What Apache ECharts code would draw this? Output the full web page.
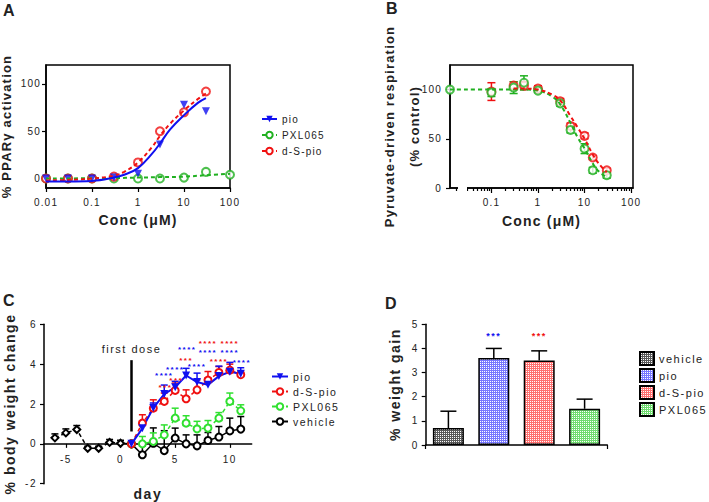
<!DOCTYPE html>
<html>
<head>
<meta charset="utf-8">
<title>PPARγ activation, respiration and body weight</title>
<script src="https://cdn.jsdelivr.net/npm/echarts@6.0.0/dist/echarts.min.js"></script>
<style>
  html, body { margin: 0; padding: 0; background: #fff; }
  .panel { position: absolute; }
  #chartA, #chartB { letter-spacing: 1.2px; }
  #chartC, #chartD { letter-spacing: 1.5px; }
</style>
</head>
<body>
<div id="chartA" class="panel" style="left:0;top:0;width:355px;height:250px"></div>
<div id="chartB" class="panel" style="left:355px;top:0;width:354px;height:250px"></div>
<div id="chartC" class="panel" style="left:0;top:250px;width:355px;height:252px"></div>
<div id="chartD" class="panel" style="left:355px;top:250px;width:354px;height:252px"></div>
<script>
// ---------- A: PPARγ activation ----------
const aConc = [0.01, 0.03, 0.1, 0.3, 1, 3, 10, 30];
const aPio = [0, 0, 0, 1, 5, 36, 78, 71];
const aDSpio = [0, 0, 0, 2, 17, 50, 70, 92];
const aPxlConc = [0.01, 0.03, 0.1, 0.3, 1, 3, 10, 30, 100];
const aPxl = [0, 0, 0, 0, 0, 0, 1, 7, 4];
// fitted curves
const aFitConc = [0.01, 0.03, 0.1, 0.3, 0.5, 1, 2, 3, 5, 10, 20, 30];
const aPioFit = [-3, -3, -2.5, 1, 4, 11, 26, 37, 52, 67, 80, 85];
const aDSpioFit = [-2, -1.5, 0, 3, 7, 17, 33, 45, 58, 72, 84, 90];
const aPxlFitConc = [0.01, 0.3, 1, 3, 10, 30, 100];
const aPxlFit = [0, 0.5, 1, 1.5, 2, 3.5, 5];
const aYTicks = [0, 50, 100];

// ---------- B: pyruvate-driven respiration ----------
const bCtrlConc = 0.0129;   // control drawn at the left end of the axis
const bCtrl = 100;
const bConc = [0.1, 0.3, 0.5, 1, 3, 5, 10, 15, 30];
const bDSpio = [98, 104, 104, 101, 88, 63, 53, 31, 18];
const bDSpioErr = [9, 4, 4, 3, 3, 3, 3, 2, 2];
const bPxl = [97, 102, 107, 99, 86, 59, 40, 18, 13];
const bPxlErr = [4, 6, 7, 2, 3, 3, 5, 3, 3];
const bPxlFitConc = [0.0129, 0.1, 0.3, 0.5, 1, 2, 3, 5, 7, 10, 15, 20, 30];
const bPxlFit = [100, 100, 100, 100, 99, 93, 85, 66, 52, 40, 25, 17, 11];
const bDSFitConc = [0.3, 0.5, 1, 2, 3, 5, 7, 10, 15, 20, 30];
const bDSFit = [101, 101, 100, 95, 89, 73, 62, 50, 34, 25, 16];
const bYTicks = [0, 50, 100];
const bMajorTicks = [0.1, 1, 10, 100];
const bMinorTicks = [0.0175, 0.03, 0.04, 0.05, 0.06, 0.07, 0.08, 0.09,
  0.2, 0.3, 0.4, 0.5, 0.6, 0.7, 0.8, 0.9, 2, 3, 4, 5, 6, 7, 8, 9,
  20, 30, 40, 50, 60, 70, 80, 90];

// ---------- C: body weight change ----------
const cPreDays = [-6, -5, -4, -3, -2, -1, 0, 1];
const cPre = [0.3, 0.55, 0.72, -0.22, -0.22, 0.07, 0.03, 0];
const cPreErr = [0.2, 0.2, 0.2, 0.1, 0.1, 0.15, 0.15, 0];
const cDays = [1, 2, 3, 4, 5, 6, 7, 8, 9, 10, 11];
const cPio = [0, 0.78, 1.8, 2.5, 2.84, 3.43, 3.1, 2.96, 3.4, 3.62, 3.52];
const cPioErr = [0, 0.25, 0.25, 0.45, 0.3, 0.36, 0.45, 0.34, 0.5, 0.47, 0.3];
const cDSpio = [0, 1.04, 1.79, 2.13, 2.68, 2.26, 2.71, 3.2, 3.58, 3.7, 3.47];
const cDSpioErr = [0, 0.42, 0.42, 0.42, 0.37, 0.45, 0.5, 0.43, 0.3, 0.3, 0.18];
const cPxl = [0, 0, 0.12, 0.45, 1.29, 1.04, 0.75, 0.79, 1.29, 2.13, 1.66];
const cPxlErr = [0, 0.37, 0.43, 0.5, 0.5, 0.37, 0.38, 0.38, 0.28, 0.42, 0.3];
const cVeh = [0, -0.55, 0.03, -0.34, 0.29, 0, -0.1, 0.17, 0.34, 0.65, 0.74];
const cVehErr = [0, 0.45, 0.77, 1.0, 0.5, 0.45, 0.55, 0.4, 0.53, 0.64, 0.63];
const cXTicks = [-5, 0, 5, 10];
const cPioStarDays = [4, 5, 6.1, 7, 8, 10, 11.1];
const cPioStarY = [3.42, 3.72, 4.72, 3.88, 4.56, 4.56, 4.1];
const cPioStars = ['****', '****', '****', '****', '****', '****', '****'];
const cDSStarDays = [4.1, 5.1, 6, 8, 9, 10];
const cDSStarY = [2.85, 3.2, 4.17, 5.06, 4.14, 5.06];
const cDSStars = ['***', '***', '***', '****', '****', '****'];
const doseDay = 1, doseFrom = 4.2, doseTo = 0.62;

// ---------- D: weight gain ----------
const dGroups = ['vehicle', 'pio', 'd-S-pio', 'PXL065'];
const dGain = [0.7, 3.6, 3.5, 1.5];
const dErr = [0.7, 0.4, 0.4, 0.4];
const dStars = ['', '***', '***', ''];
const dStarY = [0, 4.53, 4.53, 0];

const FONT = '"Liberation Sans", Arial, sans-serif';
const TXT = '#222';
const BLUE = '#1010f0', RED = '#f01010', GREEN = '#20b020', LIME = '#30e030';
const dFill = ['#5a5a5a', '#7878ff', '#ff7070', '#70dc70'];
const dStarColor = ['#000', BLUE, RED, '#000'];

const lg = v => Math.log10(v);
const xy = (xs, ys) => xs.map((x, i) => [x, ys[i]]);
const lxy = (xs, ys) => xs.map((x, i) => [lg(x), ys[i]]);
const xye = (xs, ys, es) => xs.map((x, i) => [x, ys[i], es[i]]);
const decade = v => String(Math.pow(10, Math.round(v)));

function mix(a, b) {
  const out = Object.assign({}, a);
  for (const k in b) {
    const v = b[k];
    const isObj = v && typeof v === 'object' && !Array.isArray(v) && typeof v !== 'function';
    out[k] = isObj && a[k] && typeof a[k] === 'object' ? mix(a[k], v) : v;
  }
  return out;
}

function axis(extra) {
  return mix({
    splitLine: { show: false },
    axisLine: { show: true, onZero: false, lineStyle: { color: '#000', width: 1.5 } },
    axisTick: { show: true, length: 4, lineStyle: { color: '#000', width: 1.2 } },
    axisLabel: { color: TXT, fontSize: 10, fontFamily: FONT },
    nameLocation: 'middle',
    nameTextStyle: { color: TXT, fontSize: 13, fontWeight: 'bold', fontFamily: FONT }
  }, extra);
}

function errBars(color, both, half) {
  return function (params, api) {
    const x = api.value(0), y = api.value(1), e = api.value(2);
    if (!e) return null;
    const c = api.coord([x, y]);
    const t = api.coord([x, y + e]);
    const b = both ? api.coord([x, y - e]) : c;
    const st = { stroke: color, lineWidth: 1.5 };
    const kids = [
      { type: 'line', shape: { x1: c[0], y1: b[1], x2: c[0], y2: t[1] }, style: st },
      { type: 'line', shape: { x1: c[0] - half, y1: t[1], x2: c[0] + half, y2: t[1] }, style: st }
    ];
    if (both) kids.push({ type: 'line', shape: { x1: c[0] - half, y1: b[1], x2: c[0] + half, y2: b[1] }, style: st });
    return { type: 'group', children: kids };
  };
}

function stars(xs, ys, texts, color) {
  return {
    type: 'custom', silent: true, z: 5,
    data: xs.map((x, i) => [x, ys[i]]),
    renderItem: (p, api) => {
      const c = api.coord([api.value(0), api.value(1)]);
      return { type: 'text', x: c[0], y: c[1],
        style: { text: texts[p.dataIndex], fill: color, font: 'bold 8px ' + FONT, align: 'center', verticalAlign: 'middle' } };
    }
  };
}

function letter(t, left, top) {
  return { type: 'text', left: left, top: top, style: { text: t, font: 'bold 16px ' + FONT, fill: TXT } };
}

function pat(base) {
  const cv = document.createElement('canvas');
  cv.width = 4; cv.height = 4;
  const g = cv.getContext('2d');
  g.fillStyle = base; g.fillRect(0, 0, 4, 4);
  g.fillStyle = '#fff';
  g.fillRect(1, 1, 1, 1); g.fillRect(3, 3, 1, 1); g.fillRect(1, 3, 1, 1); g.fillRect(3, 1, 1, 1);
  return { image: cv, repeat: 'repeat' };
}

const dash = [4, 3];

// ---------- panel A ----------
const chartA = echarts.init(document.getElementById('chartA'), null, { renderer: 'svg' });
chartA.setOption({
  animation: false,
  textStyle: { fontFamily: FONT },
  graphic: [letter('A', 3, 2)],
  grid: { left: 46, top: 65, width: 184, height: 123, show: true, borderColor: '#000', borderWidth: 1.5, outerBoundsMode: 'none' },
  xAxis: axis({ type: 'value', min: lg(0.01), max: lg(100), interval: 1,
    name: 'Conc (μM)', nameGap: 25, nameTextStyle: { fontSize: 14 },
    axisLabel: { margin: 9, formatter: decade } }),
  yAxis: axis({ type: 'value', min: -10, max: 120, name: '% PPARγ activation', nameGap: 32,
    axisLabel: { margin: 5, customValues: aYTicks }, axisTick: { customValues: aYTicks } }),
  legend: { orient: 'vertical', left: 256, top: 109, itemWidth: 15, itemHeight: 8, itemGap: 6,
    textStyle: { color: TXT, fontSize: 10, fontFamily: FONT }, data: ['pio', 'PXL065', 'd-S-pio'] },
  series: [
    { name: 'PXL065', type: 'line', smooth: 0.4, data: lxy(aPxlFitConc, aPxlFit), symbol: 'emptyCircle', showSymbol: false,
      lineStyle: { color: GREEN, width: 2, type: dash }, itemStyle: { color: GREEN } },
    { name: 'd-S-pio', type: 'line', smooth: 0.4, data: lxy(aFitConc, aDSpioFit), symbol: 'emptyCircle', showSymbol: false,
      lineStyle: { color: RED, width: 2, type: dash }, itemStyle: { color: RED } },
    { name: 'pio', type: 'line', smooth: 0.4, data: lxy(aFitConc, aPioFit), symbol: 'triangle', symbolRotate: 180, showSymbol: false,
      lineStyle: { color: BLUE, width: 2 }, itemStyle: { color: BLUE } },
    { name: 'PXL065', type: 'scatter', data: lxy(aPxlConc, aPxl), symbol: 'emptyCircle', symbolSize: 8,
      itemStyle: { color: GREEN, borderWidth: 1.5 } },
    { name: 'd-S-pio', type: 'scatter', data: lxy(aConc, aDSpio), symbol: 'emptyCircle', symbolSize: 8,
      itemStyle: { color: RED, borderWidth: 1.5 } },
    { name: 'pio', type: 'scatter', data: lxy(aConc, aPio), symbol: 'triangle', symbolRotate: 180, symbolSize: 8,
      itemStyle: { color: BLUE } }
  ]
});

// ---------- panel B ----------
const bLeft = 95, bTop = 65, bW = 183, bH = 123;
const chartB = echarts.init(document.getElementById('chartB'), null, { renderer: 'svg' });
chartB.setOption({
  animation: false,
  textStyle: { fontFamily: FONT },
  graphic: [
    letter('B', 31, 0),
    // axis break between control and the concentration range
    { type: 'rect', shape: { x: bLeft + 8, y: bTop + bH - 3, width: 9, height: 8 }, style: { fill: '#fff' }, z: 100 }
  ],
  grid: { left: bLeft, top: bTop, width: bW, height: bH, show: true, borderColor: '#000', borderWidth: 1.5, outerBoundsMode: 'none' },
  xAxis: [
    axis({ type: 'value', min: lg(bCtrlConc), max: 2.04, name: 'Conc (μM)', nameGap: 26, nameTextStyle: { fontSize: 14 },
      axisTick: { length: 5, customValues: bMajorTicks.map(lg) },
      axisLabel: { margin: 9, customValues: bMajorTicks.map(lg), formatter: decade } }),
    axis({ type: 'value', position: 'bottom', min: lg(bCtrlConc), max: 2.04,
      axisLine: { show: false }, axisLabel: { show: false },
      axisTick: { length: 3, customValues: bMinorTicks.map(lg) } })
  ],
  yAxis: axis({ type: 'value', min: 0, max: 125, name: 'Pyruvate-driven respiration\n(% control)', nameGap: 23,
    nameMoveOverlap: false, nameTextStyle: { lineHeight: 25 },
    axisLabel: { margin: 8, customValues: bYTicks }, axisTick: { customValues: bYTicks } }),
  series: [
    { name: 'PXL065', type: 'line', smooth: 0.4, data: lxy(bPxlFitConc, bPxlFit), showSymbol: false,
      lineStyle: { color: GREEN, width: 2, type: dash } },
    { name: 'd-S-pio', type: 'line', smooth: 0.4, data: lxy(bDSFitConc, bDSFit), showSymbol: false,
      lineStyle: { color: RED, width: 2, type: dash } },
    { type: 'custom', data: xye(bConc.map(lg), bDSpio, bDSpioErr), renderItem: errBars(RED, true, 4) },
    { type: 'custom', data: xye(bConc.map(lg), bPxl, bPxlErr), renderItem: errBars(GREEN, true, 4) },
    { name: 'd-S-pio', type: 'scatter', data: lxy(bConc, bDSpio), symbol: 'emptyCircle', symbolSize: 8,
      itemStyle: { color: RED, borderWidth: 1.5 } },
    { name: 'PXL065', type: 'scatter', data: lxy([bCtrlConc].concat(bConc), [bCtrl].concat(bPxl)), symbol: 'emptyCircle', symbolSize: 8,
      itemStyle: { color: GREEN, borderWidth: 1.5 } }
  ]
});

// ---------- panel C ----------
const cH = 159.4, cMin = -2, cMax = 6;
const chartC = echarts.init(document.getElementById('chartC'), null, { renderer: 'svg' });
chartC.setOption({
  animation: false,
  textStyle: { fontFamily: FONT },
  graphic: [letter('C', 3, 42)],
  grid: { left: 44, top: 74.3, width: 207.7, height: cH, outerBoundsMode: 'none' },
  // x axis sits on y = 0: shift it up from the bottom of the grid
  xAxis: axis({ type: 'value', min: -7, max: 12, name: 'day', nameGap: 43, nameTextStyle: { fontSize: 14 },
    offset: -cH * (0 - cMin) / (cMax - cMin),
    axisTick: { customValues: cXTicks }, axisLabel: { margin: 11, customValues: cXTicks } }),
  yAxis: axis({ type: 'value', min: cMin, max: cMax, interval: 2, name: '% body weight change', nameGap: 24,
    nameTextStyle: { fontSize: 14 }, axisLabel: { margin: 7 } }),
  legend: { orient: 'vertical', left: 266, top: 116, itemWidth: 16, itemHeight: 8, itemGap: 4,
    textStyle: { color: TXT, fontSize: 10.5, fontFamily: FONT }, data: ['pio', 'd-S-pio', 'PXL065', 'vehicle'] },
  series: [
    { type: 'custom', data: xye(cPreDays, cPre, cPreErr), renderItem: errBars('#000', false, 3.5) },
    { type: 'custom', data: xye(cDays, cVeh, cVehErr), renderItem: errBars('#000', false, 3.5) },
    { type: 'custom', data: xye(cDays, cPxl, cPxlErr), renderItem: errBars(LIME, false, 3.5) },
    { type: 'custom', data: xye(cDays, cDSpio, cDSpioErr), renderItem: errBars(RED, false, 3.5) },
    { type: 'custom', data: xye(cDays, cPio, cPioErr), renderItem: errBars(BLUE, false, 3.5) },
    { name: 'pre', type: 'line', data: xy(cPreDays, cPre), symbol: 'emptyDiamond', symbolSize: 7,
      lineStyle: { color: '#000', width: 1.5, type: dash }, itemStyle: { color: '#000', borderWidth: 1.5 } },
    { name: 'vehicle', type: 'line', data: xy(cDays, cVeh), symbol: 'emptyCircle', symbolSize: 7,
      lineStyle: { color: '#000', width: 1.5 }, itemStyle: { color: '#000', borderWidth: 1.5 },
      markLine: { silent: true, symbol: ['none', 'arrow'], symbolSize: [0, 12],
        lineStyle: { color: '#000', width: 2.5, type: 'solid' },
        label: { show: true, position: 'start', formatter: 'first dose', color: TXT, fontSize: 11, fontFamily: FONT, distance: 6 },
        data: [[{ coord: [doseDay, doseFrom] }, { coord: [doseDay, doseTo] }]] } },
    { name: 'PXL065', type: 'line', data: xy(cDays, cPxl), symbol: 'emptyCircle', symbolSize: 7,
      lineStyle: { color: LIME, width: 1.5, type: dash }, itemStyle: { color: LIME, borderWidth: 1.5 } },
    { name: 'd-S-pio', type: 'line', data: xy(cDays, cDSpio), symbol: 'emptyCircle', symbolSize: 7,
      lineStyle: { color: RED, width: 1.5, type: dash }, itemStyle: { color: RED, borderWidth: 1.5 } },
    { name: 'pio', type: 'line', data: xy(cDays, cPio), symbol: 'triangle', symbolRotate: 180, symbolSize: 8,
      lineStyle: { color: BLUE, width: 2 }, itemStyle: { color: BLUE } },
    stars(cPioStarDays, cPioStarY, cPioStars, BLUE),
    stars(cDSStarDays, cDSStarY, cDSStars, RED)
  ]
});

// ---------- panel D ----------
const chartD = echarts.init(document.getElementById('chartD'), null, { renderer: 'svg' });
chartD.setOption({
  animation: false,
  textStyle: { fontFamily: FONT },
  graphic: [letter('D', 30, 45)],
  grid: { left: 70.7, top: 74.3, width: 181.6, height: 120.7, outerBoundsMode: 'none' },
  xAxis: axis({ type: 'category', data: dGroups, axisTick: { interval: i => i === 2 }, axisLabel: { show: false } }),
  yAxis: axis({ type: 'value', min: 0, max: 5, interval: 1, name: '% weight gain', nameGap: 24,
    nameTextStyle: { fontSize: 14 }, axisLabel: { margin: 7 } }),
  legend: { orient: 'vertical', left: 279, top: 96, itemWidth: 14, itemHeight: 13, itemGap: 2, icon: 'rect',
    textStyle: { color: TXT, fontSize: 11, fontFamily: FONT }, data: dGroups },
  series: dGroups.map((g, i) => ({
    name: g, type: 'bar', stack: 'all', barWidth: 31,
    data: dGroups.map((_, j) => (j === i ? dGain[i] : '-')),
    itemStyle: { color: pat(dFill[i]), borderColor: '#000', borderWidth: 1.5 }
  })).concat([
    { type: 'custom', z: 3, data: dGroups.map((_, i) => [i, dGain[i], dErr[i]]), renderItem: errBars('#000', false, 8) },
    { type: 'custom', silent: true, z: 5, data: dGroups.map((_, i) => [i, dStarY[i]]),
      renderItem: (p, api) => {
        const c = api.coord([api.value(0), api.value(1)]);
        return { type: 'text', x: c[0], y: c[1],
          style: { text: dStars[p.dataIndex], fill: dStarColor[p.dataIndex], font: 'bold 9px ' + FONT, align: 'center', verticalAlign: 'middle' } };
      } }
  ])
});
</script>
</body>
</html>
